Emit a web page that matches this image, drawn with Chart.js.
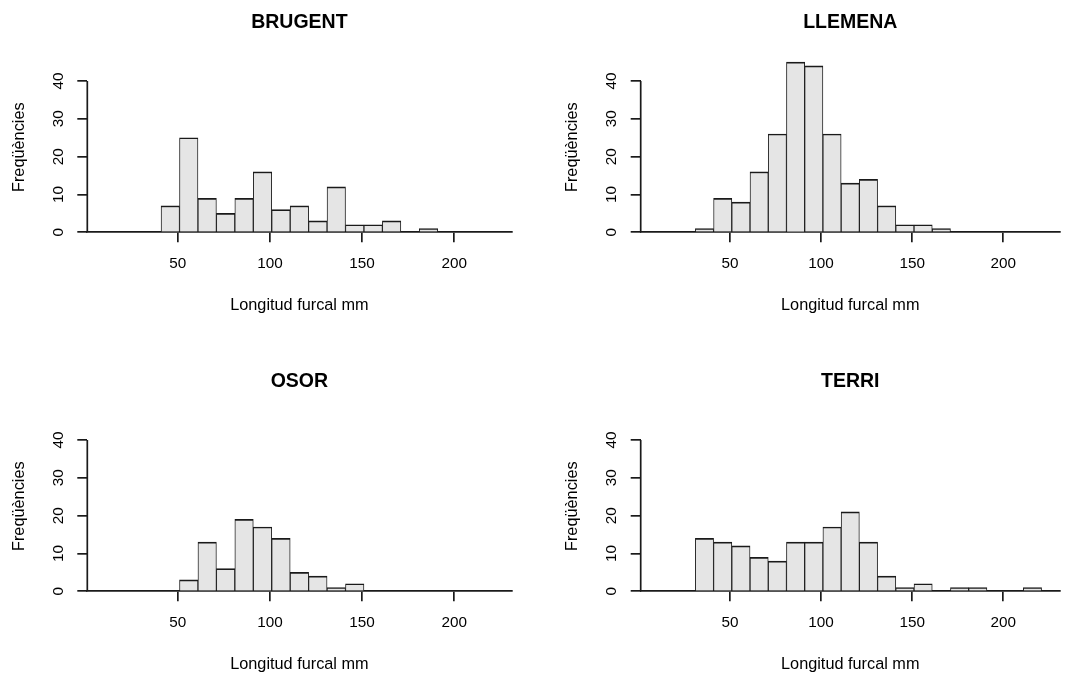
<!DOCTYPE html>
<html lang="ca">
<head>
<meta charset="UTF-8">
<title>Longitud furcal per riu</title>
<script src="https://cdn.jsdelivr.net/npm/chart.js"></script>
<style>
    body {
        margin: 0;
        width: 1065px;
        height: 675px;
        overflow: hidden;
        background: #fff;
        position: relative;
    }
    canvas {
        position: absolute;
    }
</style>
</head>
<body>
<canvas id="brugent" width="532" height="359" style="left:0;top:0"></canvas>
<canvas id="llemena" width="533" height="359" style="left:532px;top:0"></canvas>
<canvas id="osor" width="532" height="359" style="left:0;top:359px"></canvas>
<canvas id="terri" width="533" height="359" style="left:532px;top:359px"></canvas>

<script>
    // histogram bins: 10 mm wide, starting at 31 mm
    const binStarts = [31, 41, 51, 61, 71, 81, 91, 101, 111, 121, 131, 141, 151, 161, 171, 181, 191, 201, 211];
    const binWidth = 10;

    // frequencies per bin, one array per river
    const brugent = [0, 7, 25, 9, 5, 9, 16, 6, 7, 3, 12, 2, 2, 3, 0, 1, 0, 0, 0];
    const llemena = [1, 9, 8, 16, 26, 45, 44, 26, 13, 14, 7, 2, 2, 1, 0, 0, 0, 0, 0];
    const osor    = [0, 0, 3, 13, 6, 19, 17, 14, 5, 4, 1, 2, 0, 0, 0, 0, 0, 0, 0];
    const terri   = [14, 13, 12, 9, 8, 13, 13, 17, 21, 13, 4, 1, 2, 0, 1, 1, 0, 0, 1];

    const xTicks = [50, 100, 150, 200];
    const yTicks = [0, 10, 20, 30, 40];
    const xRange = [1, 231];
    const yRange = [0, 45];

    const xLabel = 'Longitud furcal mm';
    const yLabel = 'Freqüències';

    const ink = '#1a1a1a';
    const barFill = '#e5e5e5';
    const family = '"Liberation Sans", Arial, sans-serif';
    const lineW = 1.7;

    // y axis line only runs up to the last tick, plus the bold panel title
    const frame = {
        id: 'frame',
        afterDraw(chart, args, opts) {
            const {ctx, chartArea, scales} = chart;
            const y = scales.y;
            ctx.save();
            ctx.strokeStyle = ink;
            ctx.lineWidth = lineW;
            ctx.beginPath();
            ctx.moveTo(chartArea.left, y.getPixelForValue(yTicks[0]));
            ctx.lineTo(chartArea.left, y.getPixelForValue(yTicks[yTicks.length - 1]));
            ctx.stroke();

            ctx.fillStyle = '#000';
            ctx.font = 'bold 19.5px ' + family;
            ctx.textAlign = 'center';
            ctx.textBaseline = 'middle';
            ctx.fillText(opts.text, (chartArea.left + chartArea.right) / 2, 22.6);
            ctx.restore();
        }
    };

    function makeHistogram(id, title, counts, padLeft, padRight) {
        const points = binStarts.map((b, i) => ({ x: b + binWidth / 2, y: counts[i] }));
        return new Chart(document.getElementById(id), {
            type: 'bar',
            data: {
                datasets: [{
                    data: points,
                    backgroundColor: barFill,
                    borderColor: ink,
                    // neighbours share an edge, so the sides are drawn at half width
                    borderWidth: { top: 1.7, left: 0.95, right: 0.95, bottom: 0 },
                    borderSkipped: 'start',
                    barPercentage: 1,
                    categoryPercentage: 1,
                    clip: false
                }]
            },
            options: {
                responsive: false,
                animation: false,
                layout: { padding: { top: 62.1, bottom: 36.7, left: padLeft, right: padRight } },
                plugins: {
                    legend: { display: false },
                    tooltip: { enabled: false },
                    frame: { text: title }
                },
                scales: {
                    x: {
                        type: 'linear',
                        min: xRange[0],
                        max: xRange[1],
                        offset: false,
                        afterBuildTicks: s => { s.ticks = xTicks.map(v => ({ value: v })); },
                        afterFit: s => { s.height = 90; },
                        grid: { offset: false, drawOnChartArea: false, drawTicks: true, tickLength: 10, color: ink, lineWidth: lineW },
                        border: { display: true, color: ink, width: lineW },
                        ticks: { autoSkip: false, maxRotation: 0, padding: 12, color: '#000', font: { family: family, size: 15.3 } },
                        title: { display: true, text: xLabel, color: '#000', font: { family: family, size: 16.3 }, padding: { top: 0, bottom: 6.7 } }
                    },
                    y: {
                        min: yRange[0],
                        max: yRange[1],
                        afterBuildTicks: s => { s.ticks = yTicks.map(v => ({ value: v })); },
                        afterFit: s => { s.width = 87.3; },
                        grid: { drawOnChartArea: false, drawTicks: true, tickLength: 10, color: ink, lineWidth: lineW },
                        border: { display: false },
                        ticks: { autoSkip: false, minRotation: 90, maxRotation: 90, crossAlign: 'center', padding: 10.4, color: '#000', font: { family: family, size: 15.3 } },
                        title: { display: true, text: yLabel, color: '#000', font: { family: family, size: 16.3 }, padding: { top: 9.6, bottom: 0 } }
                    }
                }
            },
            plugins: [frame]
        });
    }

    makeHistogram('brugent', 'BRUGENT', brugent, 0, 20.5);
    makeHistogram('llemena', 'LLEMENA', llemena, 21.4, 5.2);
    makeHistogram('osor', 'OSOR', osor, 0, 20.5);
    makeHistogram('terri', 'TERRI', terri, 21.4, 5.2);
</script>
</body>
</html>
